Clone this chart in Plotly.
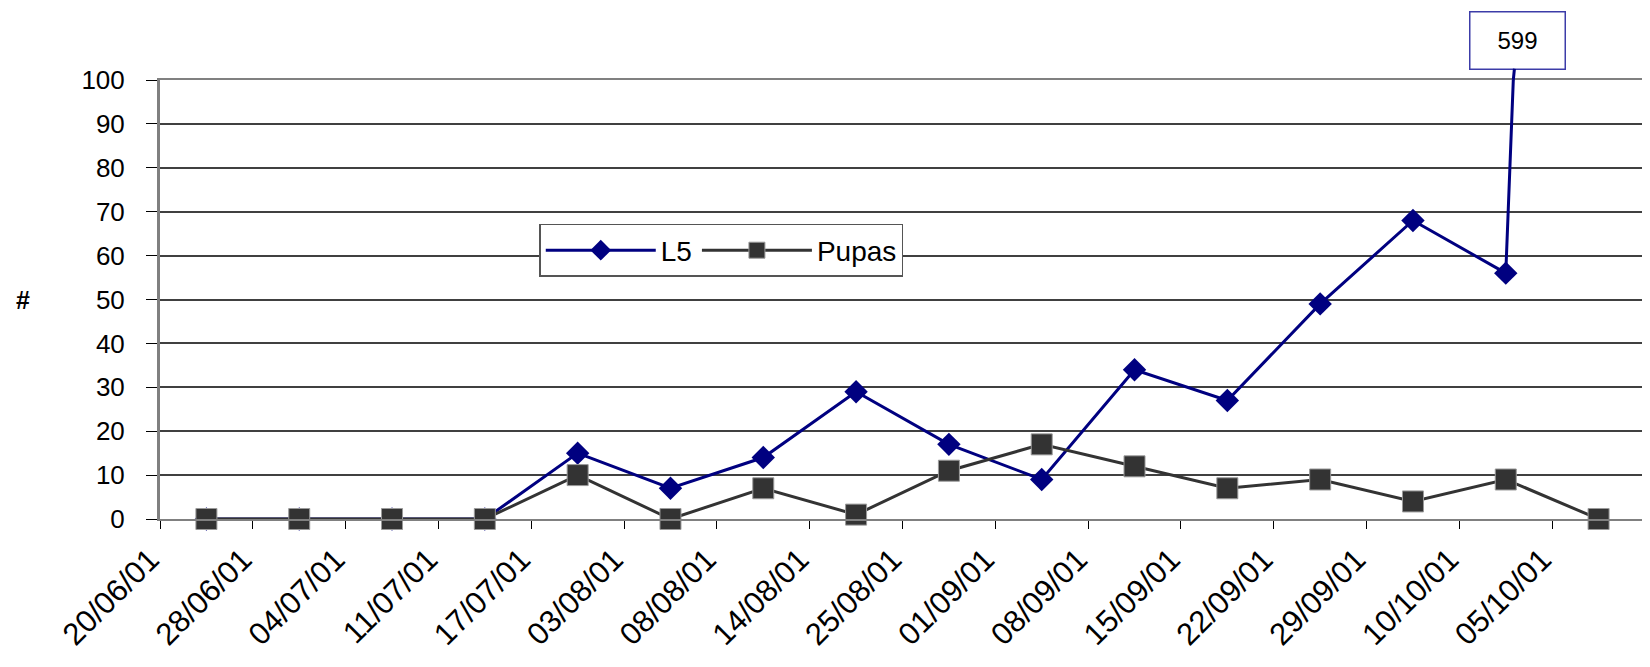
import plotly.graph_objects as go

dates = ["20/06/01", "28/06/01", "04/07/01", "11/07/01", "17/07/01", "03/08/01",
         "08/08/01", "14/08/01", "25/08/01", "01/09/01", "08/09/01", "15/09/01",
         "22/09/01", "29/09/01", "10/10/01", "05/10/01"]
l5 = [0, 0, 0, 0, 15, 7, 14, 29, 17, 9, 34, 27, 49, 68, 56, 599]
pupas = [0, 0, 0, 0, 10, 0, 7, 1, 11, 17, 12, 7, 9, 4, 9, 0]
y_ticks = [0, 10, 20, 30, 40, 50, 60, 70, 80, 90, 100]

FONT = "Liberation Sans, Arial, sans-serif"
NAVY = "#000080"
DARK = "#333333"

n = len(l5)
xs = list(range(n))

fig = go.Figure()
fig.add_trace(go.Scatter(
    x=xs, y=l5, name="L5", mode="lines+markers",
    line=dict(color=NAVY, width=3),
    marker=dict(symbol="diamond", size=18, color=NAVY),
    cliponaxis=False,
))
fig.add_trace(go.Scatter(
    x=xs, y=pupas, name="Pupas", mode="lines+markers",
    line=dict(color=DARK, width=3),
    marker=dict(symbol="square", size=21, color=DARK, line=dict(color="#9a9a9a", width=1)),
    cliponaxis=False,
))

# where the L5 line leaves the top of the axis (value 100) on its way to the last point
ymax = 100
x_cross = (n - 2) + (ymax - l5[-2]) / (l5[-1] - l5[-2])
fig.add_annotation(
    x=x_cross, y=ymax, xref="x", yref="y",
    text=str(l5[-1]), showarrow=True, arrowhead=0, arrowwidth=3, arrowcolor=NAVY,
    ax=4, ay=-40, font=dict(family=FONT, size=24, color="black"),
    bordercolor="#3c3ca8", borderwidth=1.5, bgcolor="white",
    width=92, height=54,
)

fig.add_annotation(
    x=-0.092, y=0.5, xref="paper", yref="paper", text="<b>#</b>", showarrow=False,
    font=dict(family=FONT, size=25, color="black"), xanchor="center", yanchor="middle",
)

tickvals = [i - 0.5 for i in range(n + 1)]
ticktext = dates + [""]

fig.update_layout(
    width=1642, height=651,
    margin=dict(l=152, r=2, t=72, b=140),
    paper_bgcolor="white", plot_bgcolor="white",
    font=dict(family=FONT, color="black"),
    showlegend=True,
    legend=dict(
        orientation="h", x=0.2554, y=0.672, xanchor="left", yanchor="top",
        bgcolor="white", bordercolor="#555555", borderwidth=1.5,
        font=dict(family=FONT, size=28, color="black"),
        itemwidth=110,
    ),
    xaxis=dict(
        range=[-0.5, n - 0.5], tickmode="array", tickvals=tickvals, ticktext=ticktext,
        tickangle=-45, ticks="outside", ticklen=8, tickcolor="black", tickwidth=1,
        showgrid=False, zeroline=False,
        showline=True, linecolor="#808080", linewidth=2, mirror=True,
        tickfont=dict(family=FONT, size=31, color="black"),
        ticklabelshift=-10,
    ),
    yaxis=dict(
        range=[0, ymax], tickmode="array", tickvals=y_ticks,
        ticktext=[str(v) for v in y_ticks],
        ticks="outside", ticklen=11, tickcolor="black", tickwidth=1,
        showgrid=True, gridcolor="#404040", gridwidth=1.5, zeroline=False,
        showline=True, linecolor="#808080", linewidth=3, mirror=True,
        tickfont=dict(family=FONT, size=26, color="black"),
        ticklabelstandoff=16,
    ),
)

fig.write_html("out.html")
